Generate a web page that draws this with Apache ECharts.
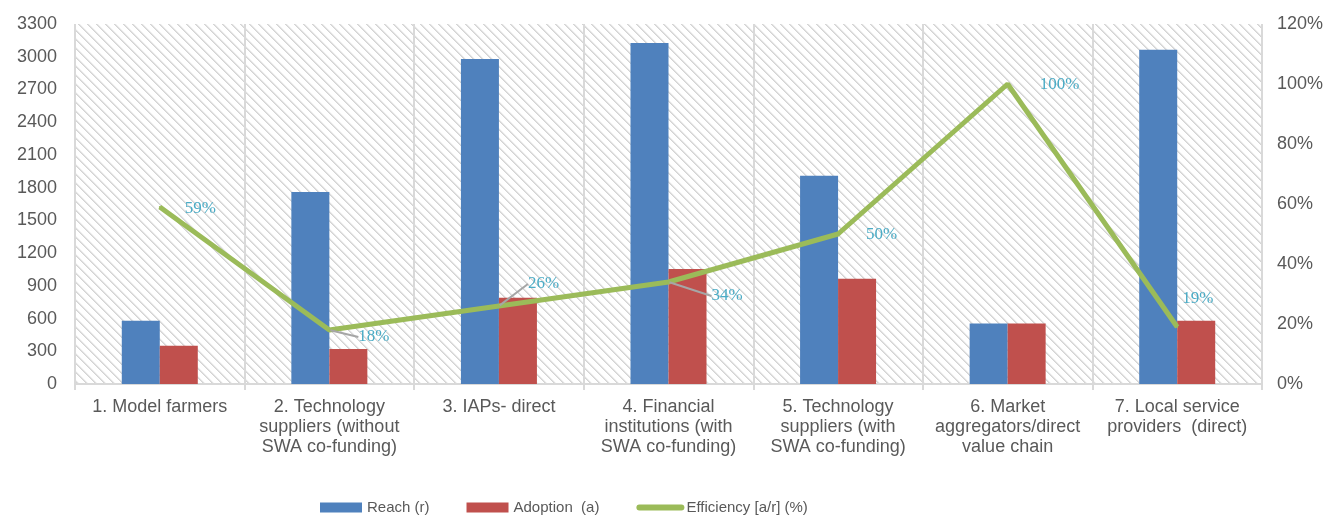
<!DOCTYPE html>
<html>
<head>
<meta charset="utf-8">
<script src="https://cdn.jsdelivr.net/npm/echarts@6/dist/echarts.min.js"></script>
<style>
html,body{margin:0;padding:0;background:#fff;}
#chart{width:1328px;height:518px;}
</style>
</head>
<body>
<div id="chart"></div>
<script>
const categories = [
  "1. Model farmers",
  "2. Technology\nsuppliers (without\nSWA co-funding)",
  "3. IAPs- direct",
  "4. Financial\ninstitutions (with\nSWA co-funding)",
  "5. Technology\nsuppliers (with\nSWA co-funding)",
  "6. Market\naggregators/direct\nvalue chain",
  "7. Local service\nproviders  (direct)"
];
const reach = [580, 1760, 2980, 3125, 1910, 555, 3065];
const adoption = [350, 320, 790, 1055, 965, 555, 580];
const efficiency = [59, 18, 26, 34, 50, 100, 19];
const leftTicks = { min: 0, max: 3300, interval: 300 };
const rightTicks = { min: 0, max: 120, interval: 20 };

// label placement (style, not data)
const labelShift = [[24, 2], [28, 7], [28, -22], [42, 14], [27, 1], [31, 1], [4, -28]];
const withGuide = [false, true, true, true, false, false, false];

function hatch() {
  const N = 9;
  const c = document.createElement('canvas');
  c.width = N; c.height = N;
  const ctx = c.getContext('2d');
  const img = ctx.createImageData(N, N);
  for (let y = 0; y < N; y++) {
    for (let x = 0; x < N; x++) {
      const d = ((x - y) % N + N) % N;
      let v = 255;
      if (d === 0) v = 212;
      else if (d === 1) v = 224;
      else if (d === 2) v = 246;
      const i = (y * N + x) * 4;
      img.data[i] = img.data[i + 1] = img.data[i + 2] = v;
      img.data[i + 3] = 255;
    }
  }
  ctx.putImageData(img, 0, 0);
  return c;
}

const chart = echarts.init(document.getElementById('chart'), null, { renderer: 'canvas' });
const axisFont = { fontFamily: 'Liberation Sans, Arial, sans-serif', fontSize: 18, color: '#595959' };

chart.setOption({
  animation: false,
  backgroundColor: '#ffffff',
  grid: {
    left: 75, right: 66, top: 24, bottom: 134,
    show: true,
    borderWidth: 0,
    backgroundColor: { image: hatch(), repeat: 'repeat' }
  },
  legend: {
    left: 315, top: 495,
    itemWidth: 42, itemHeight: 10, itemGap: 37, padding: 5,
    textStyle: { fontFamily: 'Liberation Sans, Arial, sans-serif', fontSize: 15, color: '#595959' },
    data: [
      { name: 'Reach (r)', icon: 'rect' },
      { name: 'Adoption  (a)', icon: 'rect' },
      { name: 'Efficiency [a/r] (%)', itemStyle: { opacity: 0 }, lineStyle: { width: 6, cap: 'round', color: '#9bbb59' } }
    ]
  },
  xAxis: {
    type: 'category',
    data: categories,
    boundaryGap: true,
    axisLine: { show: true, lineStyle: { color: '#d9d9d9', width: 2 } },
    axisTick: { show: true, length: 6, interval: 0, lineStyle: { color: '#d9d9d9', width: 2 } },
    splitLine: { show: true, interval: 0, lineStyle: { color: '#d9d9d9', width: 2 } },
    axisLabel: {
      interval: 0, margin: 13,
      fontFamily: 'Liberation Sans, Arial, sans-serif', fontSize: 18, lineHeight: 20, color: '#595959', align: 'center'
    }
  },
  yAxis: [
    {
      type: 'value', min: leftTicks.min, max: leftTicks.max, interval: leftTicks.interval,
      axisLine: { show: false }, axisTick: { show: false }, splitLine: { show: false },
      axisLabel: Object.assign({ margin: 18, formatter: v => String(v) }, axisFont)
    },
    {
      type: 'value', min: rightTicks.min, max: rightTicks.max, interval: rightTicks.interval,
      axisLine: { show: false }, axisTick: { show: false }, splitLine: { show: false },
      axisLabel: Object.assign({ margin: 15, formatter: '{value}%' }, axisFont)
    }
  ],
  series: [
    {
      name: 'Reach (r)', type: 'bar', yAxisIndex: 0,
      data: reach, barWidth: 38, barGap: '0%',
      itemStyle: { color: '#4f81bd' }
    },
    {
      name: 'Adoption  (a)', type: 'bar', yAxisIndex: 0,
      data: adoption, barWidth: 38, barGap: '0%',
      itemStyle: { color: '#c0504d' }
    },
    {
      name: 'Efficiency [a/r] (%)', type: 'line', yAxisIndex: 1,
      data: efficiency.map((v, i) => ({ value: v, labelLine: { show: withGuide[i] } })),
      symbol: 'circle', symbolSize: 2, showSymbol: true,
      itemStyle: { color: '#9bbb59' },
      lineStyle: { color: '#9bbb59', width: 5 },
      z: 5,
      label: {
        show: true, position: 'right', distance: 0,
        formatter: '{c}%',
        fontFamily: 'Liberation Serif, Times New Roman, serif', fontSize: 17, color: '#4bacc6'
      },
      labelLine: { show: false, lineStyle: { color: '#a6a6a6', width: 2 } },
      labelLayout: function (p) {
        const s = labelShift[p.dataIndex];
        return { dx: s[0], dy: s[1] };
      }
    }
  ]
});
</script>
</body>
</html>
